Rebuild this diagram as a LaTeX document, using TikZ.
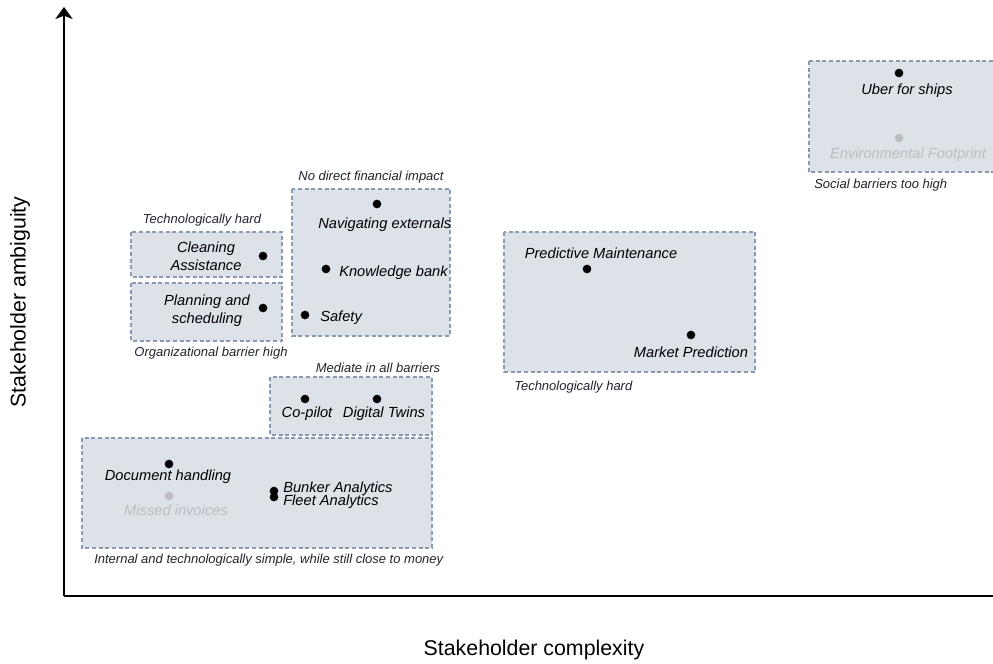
\documentclass[tikz,border=0pt]{standalone}
\usepackage{fontspec}
\setmainfont{Liberation Sans}
\usetikzlibrary{arrows.meta}
\definecolor{boxfill}{HTML}{DDE1E8}
\definecolor{boxline}{HTML}{8A9AB2}
\definecolor{ghost}{HTML}{BDBDBD}
\definecolor{notetext}{HTML}{1E2430}
\begin{document}
\begin{tikzpicture}[x=0.75pt,y=-0.75pt,
 box/.style={draw=boxline, fill=boxfill, line width=0.9pt, dash pattern=on 3pt off 2pt},
 dot/.style={circle, fill=black, inner sep=0pt, minimum size=6.5pt},
 gdot/.style={dot, fill=ghost},
 item/.style={font=\fontsize{11}{13.5}\selectfont\itshape, inner sep=0pt, align=center},
 gitem/.style={item, text=ghost},
 note/.style={font=\fontsize{9.75}{12}\selectfont\itshape, text=notetext, inner sep=0pt},
 axisline/.style={line width=1.1pt},
 atitle/.style={font=\fontsize{16}{19}\selectfont}]
\useasboundingbox (0,0) rectangle (993,664);
% boxes
\draw[box] (131,232) rectangle (282,277);
\draw[box] (131,283) rectangle (282,341);
\draw[box] (292,189) rectangle (450,336);
\draw[box] (270,377) rectangle (432,435);
\draw[box] (82,438) rectangle (432,548);
\draw[box] (504,232) rectangle (755,372);
\draw[box] (809,61) rectangle (1000,172);
% axes
\coordinate (O) at (64,596);
\coordinate (ytop) at (64,7);
\coordinate (xend) at (993,596);
\draw[axisline, -{Stealth[length=9pt,width=13pt,inset=2.5pt]}] (O) -- (ytop);
\draw[axisline] (O) -- (xend);
\node[atitle] (xt) at (534,650) {Stakeholder complexity};
\node[atitle, rotate=90] (yt) at (20,302) {Stakeholder ambiguity};
% items
\node[dot] (clean) at (263,256) {};
\node[item] (cleanT) at (206,256) {Cleaning\\Assistance};
\node[dot] (plan) at (263,308) {};
\node[item] (planT) at (207,311) {Planning and\\scheduling};
\node[dot] (nav) at (377,204) {};
\node[item, anchor=west] (navT) at (318,225) {Navigating externals};
\node[dot] (kb) at (326,269) {};
\node[item, anchor=west] (kbT) at (339,273) {Knowledge bank};
\node[dot] (safe) at (305,315) {};
\node[item, anchor=west] (safeT) at (320,318) {Safety};
\node[dot] (cop) at (305,399) {};
\node[item] (copT) at (307,414) {Co-pilot};
\node[dot] (dt) at (377,399) {};
\node[item] (dtT) at (384,414) {Digital Twins};
\node[dot] (doc) at (169,464) {};
\node[item] (docT) at (168,477) {Document handling};
\node[gdot] (mi) at (169,496) {};
\node[gitem] (miT) at (176,510) {Missed invoices};
\node[dot] (bunk) at (274,491) {};
\node[dot] (fleet) at (274,497) {};
\node[item, anchor=west] (bunkT) at (283,489) {Bunker Analytics};
\node[item, anchor=west] (fleetT) at (283,502) {Fleet Analytics};
\node[item] (pmT) at (601,253) {Predictive Maintenance};
\node[dot] (pm) at (587,269) {};
\node[dot] (mp) at (691,335) {};
\node[item] (mpT) at (691,352) {Market Prediction};
\node[dot] (uber) at (899,73) {};
\node[item] (uberT) at (907,91) {Uber for ships};
\node[gdot] (env) at (899,138) {};
\node[gitem] (envT) at (908,155) {Environmental Footprint};
% notes
\node[note] (n1) at (202,220) {Technologically hard};
\node[note] (n2) at (371,177) {No direct financial impact};
\node[note] (n3) at (211,353) {Organizational barrier high};
\node[note] (n4) at (378,368) {Mediate in all barriers};
\node[note, anchor=west] (n5) at (94,560) {Internal and technologically simple, while still close to money};
\node[note, anchor=west] (n6) at (514,387) {Technologically hard};
\node[note, anchor=west] (n7) at (814,185) {Social barriers too high};
\end{tikzpicture}
\end{document}
